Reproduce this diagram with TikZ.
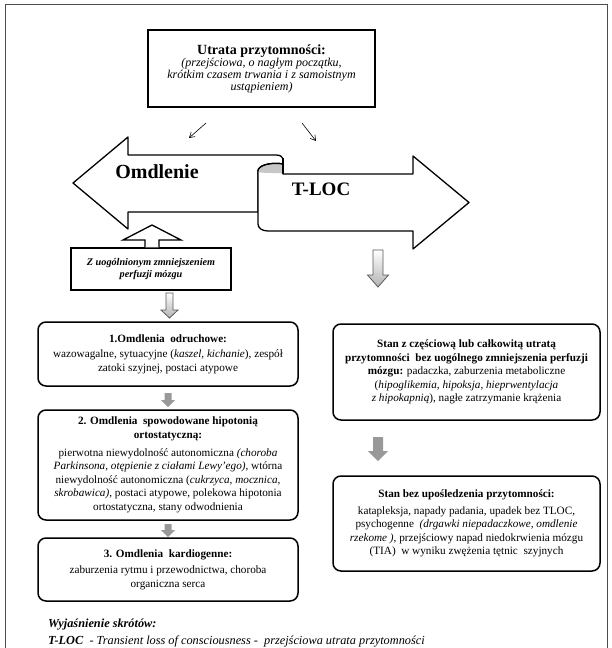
\documentclass[tikz,border=0pt]{standalone}
\usepackage{fontspec}
\setmainfont{Liberation Serif}
\usetikzlibrary{arrows.meta}
\newcommand{\tfs}{\fontsize{14}{16}\selectfont\bfseries}
\newcommand{\sfi}{\fontsize{12}{14}\selectfont\itshape}
\begin{document}
\begin{tikzpicture}[x=1pt,y=-1pt,
  sbox/.style={draw, line width=1.5pt, rounded corners=8pt, align=center, inner sep=0pt, fill=white},
  body/.style={font=\fontsize{11.2}{13.6}\selectfont},
  scroll/.style={draw, line width=1.3pt, fill=white, line join=round},
  garrow/.style={draw=black!65, line width=0.8pt, top color=white, bottom color=black!30},
  farrow/.style={fill=black!40, draw=none},
  tinyarrow/.style={line width=0.6pt, -{Straight Barb[length=5pt,width=6pt]}}]
\useasboundingbox (0,0) rectangle (611,648);
% outer frame
\draw[line width=0.7pt, black!70] (5,650) -- (5,4) -- (607,4) -- (607,650);

% top box
\node[draw, line width=2pt, align=center, minimum width=227pt, minimum height=77pt, inner sep=0pt] (top) at (261.5,68.5)
 {\tfs Utrata przytomności:\\
  \sfi (przejściowa, o nagłym początku,\\ \sfi krótkim czasem trwania i z samoistnym\\ \sfi ustąpieniem)};

\coordinate (a1s) at (206,123); \coordinate (a1e) at (189,138);
\coordinate (a2s) at (302,123); \coordinate (a2e) at (316,141);
\draw[tinyarrow] (a1s) -- (a1e);
\draw[tinyarrow] (a2s) -- (a2e);

% scroll arrows
\path[scroll] (283,161) .. controls (283,157) and (281,155) .. (276,155) -- (128,155) -- (128,137) -- (73,183) -- (128,229) -- (128,212) -- (258,212) -- (258,171) .. controls (258,165) and (272,162) .. (283,164) -- cycle;
\path[scroll] (258,171) .. controls (258,165) and (272,162) .. (283,164) -- (283,174) -- (413,174) -- (413,156) -- (469,202.5) -- (413,249) -- (413,231) -- (268,231) .. controls (262,231) and (258,228) .. (258,224) -- cycle;
\fill[black!22] (258.8,171) .. controls (258.8,165.5) and (272,163) .. (282.4,164.6) -- (282.4,173.3) .. controls (272,173) and (262,172.8) .. (258.8,172.3) -- cycle;
\draw[line width=1.3pt] (258,171) .. controls (258,165) and (272,162) .. (283,164);
\draw[line width=1.3pt] (283,158) -- (283,174);
\node[font=\fontsize{20}{22}\selectfont\bfseries, inner sep=0pt] (om) at (157,172) {Omdlenie};
\node[font=\fontsize{19}{22}\selectfont\bfseries, inner sep=0pt] (tl) at (321,189.5) {T-LOC};

% Z box
\node[draw, line width=1.5pt, minimum width=160pt, minimum height=42pt, inner sep=0pt, align=center,
  font=\fontsize{10.2}{12.5}\selectfont\bfseries\itshape] (z) at (151,269) {Z uogólnionym zmniejszeniem\\ perfuzji mózgu};
% up arrow into Omdlenie
\draw[line width=1.3pt, fill=white, line join=miter] (z.north -| 145,0) -- (145,240) -- (123,240) -- (152,225) -- (181,240) -- (159,240) -- (z.north -| 159,0);

% left column boxes
\node[sbox, body, minimum width=260pt, minimum height=64pt] (b1) at (168,354)
 {\bfseries 1.Omdlenia\ \ odruchowe:\\[2pt]
  wazowagalne, sytuacyjne (\textit{kaszel, kichanie}), zespół\\ zatoki szyjnej, postaci atypowe};
\node[sbox, body, minimum width=260pt, minimum height=110pt] (b2) at (168,465)
 {\bfseries 2. Omdlenia\ \ spowodowane hipotonią\\ \bfseries ortostatyczną:\\[4pt]
  pierwotna niewydolność autonomiczna \textit{(choroba}\\
  \textit{Parkinsona, otępienie z ciałami Lewy'ego)}, wtórna\\
  niewydolność autonomiczna (\textit{cukrzyca, mocznica,}\\
  \textit{skrobawica)}, postaci atypowe, polekowa hipotonia\\
  ortostatyczna, stany odwodnienia};
\node[sbox, body, minimum width=260pt, minimum height=63pt] (b3) at (168,569.5)
 {\bfseries 3. Omdlenia\ \ kardiogenne:\\[3pt]
  zaburzenia rytmu i przewodnictwa, choroba\\ organiczna serca};

% right column boxes
\node[sbox, body, minimum width=267pt, minimum height=96pt] (r1) at (466.5,372)
 {\bfseries Stan z częściową lub całkowitą utratą\\
  \bfseries przytomności\ \ bez uogólnego zmniejszenia perfuzji\\
  \textbf{mózgu:} padaczka, zaburzenia metaboliczne\\
  (\textit{hipoglikemia, hipoksja, hieprwentylacja}\\
  \textit{z hipokapnią}), nagłe zatrzymanie krążenia};
\node[sbox, body, minimum width=267pt, minimum height=95pt] (r2) at (466.5,523.5)
 {\bfseries Stan bez upośledzenia przytomności:\\[3pt]
  katapleksja, napady padania, upadek bez TLOC,\\
  psychogenne\ \ \textit{(drgawki niepadaczkowe, omdlenie}\\
  \textit{rzekome )}, przejściowy napad niedokrwienia mózgu\\
  (TIA)\ \ w wyniku zwężenia tętnic\ \ szyjnych};

% gradient arrows
\path[garrow] (166,293) -- (173,293) -- (173,310) -- (178,310) -- (169.5,318) -- (161,310) -- (166,310) -- cycle;
\path[garrow] (373,250) -- (383,250) -- (383,275) -- (388.5,275) -- (378,287) -- (367.5,275) -- (373,275) -- cycle;
% filled gray arrows
\fill[farrow] (164.5,393) -- (171.5,393) -- (171.5,400) -- (175,400) -- (168,407) -- (161,400) -- (164.5,400) -- cycle;
\fill[farrow] (164.5,524) -- (171.5,524) -- (171.5,530) -- (175,530) -- (168,537) -- (161,530) -- (164.5,530) -- cycle;
\fill[farrow] (373,437) -- (383,437) -- (383,451) -- (388,451) -- (378,461) -- (368,451) -- (373,451) -- cycle;

% legend
\node[anchor=west, inner sep=0pt, font=\fontsize{12.3}{14}\selectfont] (leg1) at (48,625) {\bfseries\itshape Wyjaśnienie skrótów:};
\node[anchor=west, inner sep=0pt, font=\fontsize{12.3}{14}\selectfont] (leg2) at (48,641) {\textbf{\textit{T-LOC}}\ \ \textit{- Transient loss of consciousness -\ \ przejściowa utrata przytomności}};
\end{tikzpicture}
\end{document}
